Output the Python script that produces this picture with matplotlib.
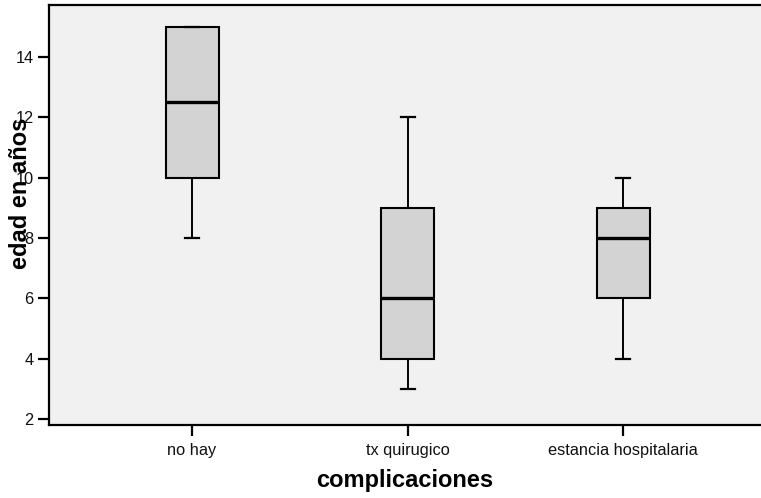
import matplotlib
matplotlib.use("Agg")
import matplotlib.pyplot as plt

categories = ["no hay", "tx quirugico", "estancia hospitalaria"]
whisker_low = [8, 3, 4]
q1 = [10, 4, 6]
median = [12.5, 6, 8]
q3 = [15, 9, 9]
whisker_high = [15, 12, 10]
y_ticks = [2, 4, 6, 8, 10, 12, 14]

plt.rcParams['font.family'] = ['Liberation Sans', 'DejaVu Sans']

fig = plt.figure(figsize=(7.61, 4.98), dpi=100)
ax = fig.add_axes([49/761, 73/498, 712/761, 420/498])
ax.set_facecolor('#f1f1f1')
fig.patch.set_facecolor('white')

stats = []
for i, c in enumerate(categories):
    stats.append(dict(label=c, whislo=whisker_low[i], q1=q1[i], med=median[i],
                      q3=q3[i], whishi=whisker_high[i], fliers=[]))

positions = [1, 2, 3]
ax.bxp(stats, positions=positions, widths=0.246, capwidths=0.065,
       patch_artist=True, showfliers=False,
       boxprops=dict(facecolor='#d3d3d3', edgecolor='black', linewidth=1.5),
       medianprops=dict(color='black', linewidth=2.4),
       whiskerprops=dict(color='black', linewidth=1.4),
       capprops=dict(color='black', linewidth=1.6))

ax.set_xlim(0.3364, 3.640)
ax.set_ylim(1.8, 15.72)
ax.set_yticks(y_ticks)
ax.set_yticklabels([str(v) for v in y_ticks])
ax.set_xticks(positions)
ax.set_xticklabels(categories)

for s in ['left', 'bottom', 'top']:
    ax.spines[s].set_linewidth(1.6)
    ax.spines[s].set_color('black')
ax.spines['right'].set_visible(False)

ax.tick_params(axis='both', direction='out', length=8, width=1.6,
               labelsize=11.8, colors='black', labelcolor='#111111')
ax.tick_params(axis='y', pad=3)
ax.tick_params(axis='x', pad=5)

ax.set_xlabel("complicaciones", fontsize=17, fontweight='bold')
ax.xaxis.label.set_va('center')
ax.xaxis.set_label_coords(0.5, -0.131)
ax.set_ylabel("edad en años", fontsize=17, fontweight='bold')
ax.yaxis.label.set_va('center')
ax.yaxis.set_label_coords(-0.040, 0.552)

fig.savefig("out.png", dpi=100)
